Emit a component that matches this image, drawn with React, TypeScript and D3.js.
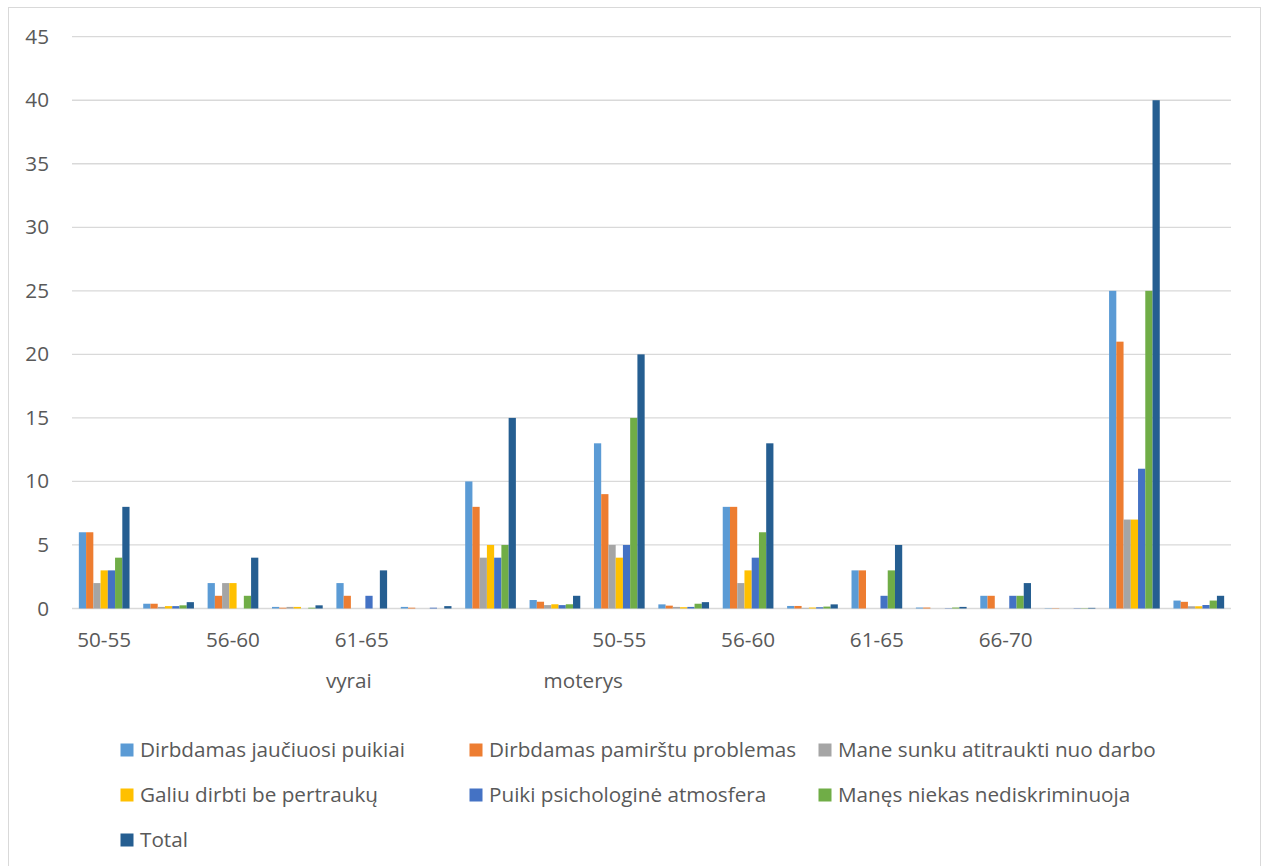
import React from "react";
import * as d3 from "d3";

// Level-1 category labels (age groups); empty entries are unlabeled columns
const ageLabels = [
  "50-55", "", "56-60", "", "61-65", "", "", "",
  "50-55", "", "56-60", "", "61-65", "", "66-70", "", "", "",
];

// Level-2 labels (gender) with their position along the category axis (in band units)
const genderLabels = ["vyrai", "moterys"];
const genderPositions = [4.3, 7.94];

const seriesNames = [
  "Dirbdamas jaučiuosi puikiai",
  "Dirbdamas pamirštu problemas",
  "Mane sunku atitraukti nuo darbo",
  "Galiu dirbti be pertraukų",
  "Puiki psichologinė atmosfera",
  "Manęs niekas nediskriminuoja",
  "Total",
];

const seriesColors = ["#5B9BD5", "#ED7D31", "#A5A5A5", "#FFC000", "#4472C4", "#70AD47", "#255E91"];

const jauciuosiPuikiai = [6, 0.375, 2, 0.125, 2, 0.125, 10, 0.667, 13, 0.325, 8, 0.2, 3, 0.075, 1, 0.025, 25, 0.625];
const pamirstuProblemas = [6, 0.375, 1, 0.0625, 1, 0.0625, 8, 0.533, 9, 0.225, 8, 0.2, 3, 0.075, 1, 0.025, 21, 0.525];
const sunkuAtitraukti = [2, 0.125, 2, 0.125, 0, 0, 4, 0.267, 5, 0.125, 2, 0.05, 0, 0, 0, 0, 7, 0.175];
const bePertrauku = [3, 0.1875, 2, 0.125, 0, 0, 5, 0.333, 4, 0.1, 3, 0.075, 0, 0, 0, 0, 7, 0.175];
const psichologineAtmosfera = [3, 0.1875, 0, 0, 1, 0.0625, 4, 0.267, 5, 0.125, 4, 0.1, 1, 0.025, 1, 0.025, 11, 0.275];
const niekasNediskriminuoja = [4, 0.25, 1, 0.0625, 0, 0, 5, 0.333, 15, 0.375, 6, 0.15, 3, 0.075, 1, 0.025, 25, 0.625];
const totalValues = [8, 0.5, 4, 0.25, 3, 0.1875, 15, 1, 20, 0.5, 13, 0.325, 5, 0.125, 2, 0.05, 40, 1];

const seriesValues = [
  jauciuosiPuikiai,
  pamirstuProblemas,
  sunkuAtitraukti,
  bePertrauku,
  psichologineAtmosfera,
  niekasNediskriminuoja,
  totalValues,
];

const yTicks = [0, 5, 10, 15, 20, 25, 30, 35, 40, 45];

const W = 1267;
const H = 866;
const plot = { left: 72, right: 1231, top: 36.7, bottom: 608.5 };
const FONT = "'Open Sans', sans-serif";
const FS = 20.7;
const TEXT = "#595959";

export default function App() {
  const idx = ageLabels.map((_, i) => i);
  const x0 = d3.scaleBand<number>().domain(idx).range([plot.left, plot.right]).padding(0);
  const x1 = d3
    .scaleBand<number>()
    .domain(seriesNames.map((_, i) => i))
    .range([0, x0.bandwidth()])
    .paddingInner(0)
    .paddingOuter(0.945);
  const y = d3.scaleLinear().domain([0, 45]).range([plot.bottom, plot.top]);

  const legendCols = [120.5, 469.5, 818.5];
  const legendRows = [757, 802, 847];

  return (
    <svg
      width={W}
      height={H}
      style={{ position: "absolute", left: 0, top: 0, display: "block", background: "#fff" }}
    >
      <rect x={8.5} y={7.5} width={1252} height={900} fill="#fff" stroke="#d9d9d9" strokeWidth={1} />

      {/* horizontal gridlines and value labels */}
      {yTicks.map((t) => (
        <g key={t}>
          <line
            x1={plot.left}
            x2={plot.right}
            y1={y(t)}
            y2={y(t)}
            stroke="#d9d9d9"
            strokeWidth={1.3}
          />
          <text
            x={49}
            y={y(t) + 7}
            textAnchor="end"
            fontFamily={FONT}
            fontSize={FS}
            fill={TEXT}
          >
            {t}
          </text>
        </g>
      ))}

      {/* clustered columns */}
      {idx.map((c) => (
        <g key={c} transform={`translate(${x0(c)},0)`}>
          {seriesValues.map((vals, s) => {
            const v = vals[c];
            if (v <= 0) return null;
            return (
              <rect
                key={s}
                x={x1(s)}
                y={y(v)}
                width={x1.bandwidth()}
                height={y(0) - y(v)}
                fill={seriesColors[s]}
              />
            );
          })}
        </g>
      ))}

      {/* category labels */}
      {ageLabels.map((l, i) =>
        l ? (
          <text
            key={i}
            x={(x0(i) as number) + x0.bandwidth() / 2}
            y={647}
            textAnchor="middle"
            fontFamily={FONT}
            fontSize={FS}
            fill={TEXT}
          >
            {l}
          </text>
        ) : null
      )}
      {genderLabels.map((l, i) => (
        <text
          key={l}
          x={plot.left + genderPositions[i] * x0.step()}
          y={688}
          textAnchor="middle"
          fontFamily={FONT}
          fontSize={FS}
          fill={TEXT}
        >
          {l}
        </text>
      ))}

      {/* legend */}
      {seriesNames.map((name, i) => {
        const cx = legendCols[i % 3];
        const cy = legendRows[Math.floor(i / 3)];
        return (
          <g key={name}>
            <rect x={cx} y={cy - 13.5} width={13} height={13} fill={seriesColors[i]} />
            <text x={cx + 19.5} y={cy} fontFamily={FONT} fontSize={FS} fill={TEXT}>
              {name}
            </text>
          </g>
        );
      })}
    </svg>
  );
}
